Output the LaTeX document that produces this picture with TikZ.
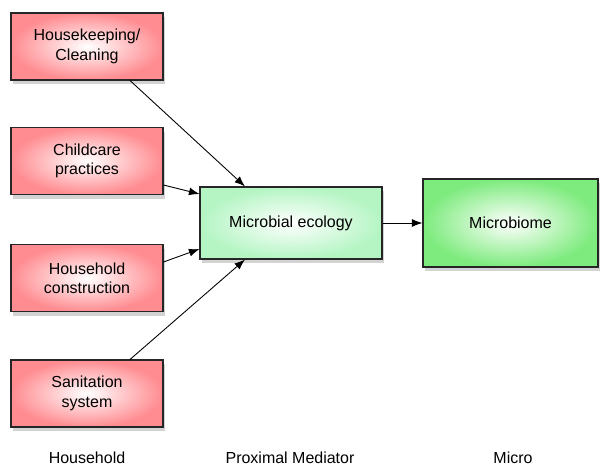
\documentclass[tikz,border=0pt]{standalone}
\usepackage{fontspec}
\setmainfont{Liberation Sans}
\usetikzlibrary{shadows,arrows.meta}
\definecolor{hhred}{RGB}{255,140,145}
\definecolor{medgreen}{RGB}{180,245,195}
\definecolor{outgreen}{RGB}{125,235,125}

\begin{document}
\begin{tikzpicture}[x=0.02cm,y=-0.02cm,
  box/.style={draw=black!85,line width=0.6pt,shading=radial,inner color=white,
    align=center,font=\fontsize{9.1}{11}\selectfont,
    drop shadow={shadow xshift=1pt,shadow yshift=-2.5pt,opacity=0.35}},
  factor/.style={box,outer color=hhred,minimum width=3.04cm,minimum height=1.34cm},
  mediator/.style={box,outer color=medgreen,minimum width=3.64cm,minimum height=1.44cm},
  outcome/.style={box,outer color=outgreen,minimum width=3.5cm,minimum height=1.76cm},
  tier/.style={font=\fontsize{9.1}{11}\selectfont},
  link/.style={-{Latex[length=6pt,width=4.5pt]},line width=0.5pt}]
  \useasboundingbox (0,0) rectangle (601,465);
  % household factors
  \node[factor] (clean) at (87,46.5) {Housekeeping/\\Cleaning};
  \node[factor] (child) at (87,161) {Childcare\\practices};
  \node[factor] (build) at (87,278) {Household\\construction};
  \node[factor] (sanit) at (87,393.5) {Sanitation\\system};
  % mediator and outcome
  \node[mediator] (ecol) at (291,223) {Microbial ecology};
  \node[outcome] (biome) at (510.5,223) {Microbiome};
  % tier labels
  \node[tier] (lhouse) at (87,458) {Household};
  \node[tier] (lprox) at (290,458) {Proximal Mediator};
  \node[tier] (lmicro) at (513,458) {Micro};
  % links
  \draw[link] ([xshift=0.86cm]clean.south) -- ([xshift=-0.92cm]ecol.north);
  \draw[link] ([yshift=-0.48cm]child.east) -- ([yshift=0.58cm]ecol.west);
  \draw[link] ([yshift=0.32cm]build.east) -- ([yshift=-0.52cm]ecol.west);
  \draw[link] ([xshift=0.86cm]sanit.north) -- ([xshift=-0.92cm]ecol.south);
  \draw[link] (ecol) -- (biome);
\end{tikzpicture}
\end{document}
